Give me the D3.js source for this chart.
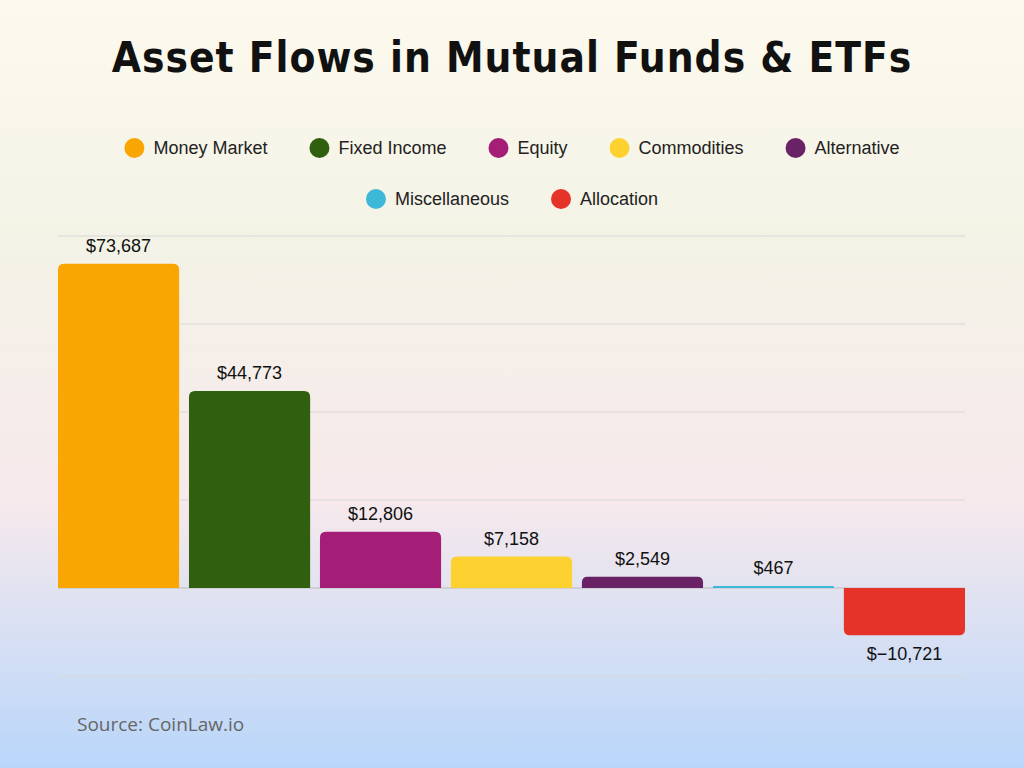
<!DOCTYPE html>
<html><head><meta charset="utf-8">
<script src="https://cdn.jsdelivr.net/npm/d3@7"></script>
<style>body{margin:0;}</style>
</head><body>
<svg id="chart" width="1024" height="768"></svg>
<script>
var categories = ["Money Market", "Fixed Income", "Equity", "Commodities", "Alternative", "Miscellaneous", "Allocation"];
var flows = [73687, 44773, 12806, 7158, 2549, 467, -10721];
var colors = ["#F9A602", "#2F5F0F", "#A41E78", "#FDD130", "#6A2266", "#3EB8D8", "#E5332A"];
var yTicks = [-20000, 0, 20000, 40000, 60000, 80000];

var svg = d3.select("#chart");
var defs = svg.append("defs");
var grad = defs.append("linearGradient").attr("id", "bg").attr("x1", 0).attr("y1", 0).attr("x2", 0).attr("y2", 1);
grad.append("stop").attr("offset", "0%").attr("stop-color", "#FDF9EE");
grad.append("stop").attr("offset", "30%").attr("stop-color", "#F3F3E6");
grad.append("stop").attr("offset", "65%").attr("stop-color", "#F7E9EC");
grad.append("stop").attr("offset", "100%").attr("stop-color", "#B9D6FA");
svg.append("rect").attr("width", 1024).attr("height", 768).attr("fill", "url(#bg)");

svg.append("text").attr("x", 512).attr("y", 72).attr("text-anchor", "middle")
    .style("font-family", "'DejaVu Sans Condensed', 'DejaVu Sans'").style("font-weight", "bold")
    .style("font-size", "42px").style("letter-spacing", "1px").attr("fill", "#111")
    .text("Asset Flows in Mutual Funds & ETFs");

var x = d3.scaleBand().domain(categories).range([58, 965]).paddingInner(0.075).paddingOuter(0);
var y = d3.scaleLinear().domain([-20000, 80000]).range([676, 236]);

// grid
svg.selectAll("line.grid").data(yTicks).enter().append("line")
    .attr("x1", 58).attr("x2", 965)
    .attr("y1", function(d) { return y(d); }).attr("y2", function(d) { return y(d); })
    .attr("stroke", function(d) { return d === 0 ? "#bbb" : "#d8d8d8"; }).attr("stroke-width", 1);

// bars with rounded outer corners
function barPath(d, i) {
    var x0 = x(categories[i]), w = x.bandwidth(), r = 6;
    var y0 = y(0), y1 = y(d);
    var h = Math.abs(y1 - y0);
    r = Math.min(r, h / 2);
    if (d >= 0) {
        return "M" + x0 + "," + y0 + "V" + (y1 + r) + "Q" + x0 + "," + y1 + " " + (x0 + r) + "," + y1 +
            "H" + (x0 + w - r) + "Q" + (x0 + w) + "," + y1 + " " + (x0 + w) + "," + (y1 + r) + "V" + y0 + "Z";
    }
    return "M" + x0 + "," + y0 + "V" + (y1 - r) + "Q" + x0 + "," + y1 + " " + (x0 + r) + "," + y1 +
        "H" + (x0 + w - r) + "Q" + (x0 + w) + "," + y1 + " " + (x0 + w) + "," + (y1 - r) + "V" + y0 + "Z";
}
svg.selectAll("path.bar").data(flows).enter().append("path")
    .attr("d", barPath).attr("fill", function(d, i) { return colors[i]; });

svg.selectAll("text.val").data(flows).enter().append("text")
    .attr("x", function(d, i) { return x(categories[i]) + x.bandwidth() / 2; })
    .attr("y", function(d) { return d >= 0 ? y(d) - 12 : y(d) + 25; })
    .attr("text-anchor", "middle").style("font-family", "'Liberation Sans', Arial").style("font-size", "18px")
    .attr("fill", "#111")
    .text(function(d) { return "$" + d3.format(",")(d); });

// legend
var rows = [[0, 1, 2, 3, 4], [5, 6]];
var rowY = [148, 199];
rows.forEach(function(r, ri) {
    var g = svg.append("g");
    var cx = 0;
    r.forEach(function(i) {
        var item = g.append("g").attr("transform", "translate(" + cx + ",0)");
        item.append("circle").attr("cx", 10).attr("cy", 0).attr("r", 10).attr("fill", colors[i]);
        var t = item.append("text").attr("x", 29).attr("y", 6).style("font-family", "'Liberation Sans', Arial")
            .style("font-size", "18px").attr("fill", "#222").text(categories[i]);
        cx += 29 + t.node().getComputedTextLength() + 42;
    });
    var total = cx - 42;
    g.attr("transform", "translate(" + (512 - total / 2) + "," + rowY[ri] + ")");
});

svg.append("text").attr("x", 77).attr("y", 731).style("font-family", "'Open Sans', sans-serif")
    .style("font-size", "19px").attr("fill", "#666").text("Source: CoinLaw.io");
</script>
</body></html>
